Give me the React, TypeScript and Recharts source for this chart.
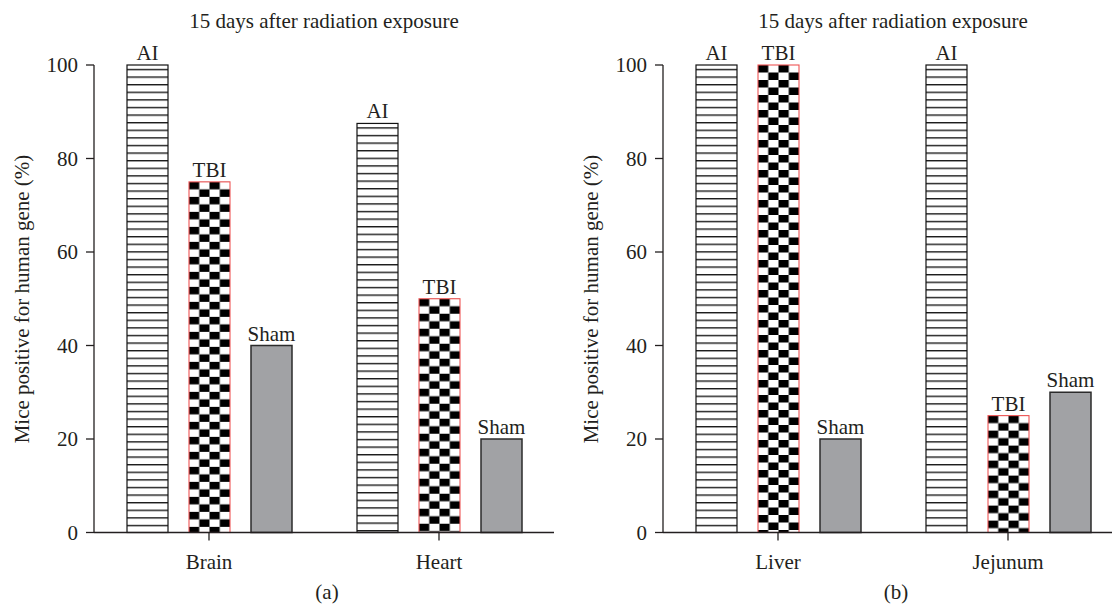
import React from 'react';
import { BarChart, Bar, XAxis, YAxis, LabelList } from 'recharts';

// values (percent of mice positive)
const leftOrgans = ['Brain', 'Heart'];
const leftAI = [100, 87.5];
const leftTBI = [75, 50];
const leftSham = [40, 20];

const rightOrgans = ['Liver', 'Jejunum'];
const rightAI = [100, 100];
const rightTBI = [100, 25];
const rightSham = [20, 30];

const yTicks = [0, 20, 40, 60, 80, 100];
const title = '15 days after radiation exposure';
const yLabel = 'Mice positive for human gene (%)';

const INK = '#231f20';
const FONT = '"Liberation Serif", "Times New Roman", serif';

// pattern fills, anchored at each bar's top-left through the translate below
const Patterns = () => (
    <svg width={0} height={0} style={{ position: 'absolute' }}>
        <defs>
            <pattern id="stripes" patternUnits="userSpaceOnUse" width={41} height={7.6}>
                <rect width={41} height={7.6} fill="#fff" />
                <rect y={3.8} width={41} height={1.4} fill="#1a1a1a" />
            </pattern>
            <pattern id="checker" patternUnits="userSpaceOnUse" width={20.5} height={15}>
                <rect width={20.5} height={15} fill="#fff" />
                <rect width={10.25} height={7.5} fill="#000" />
                <rect x={10.25} y={7.5} width={10.25} height={7.5} fill="#000" />
            </pattern>
        </defs>
    </svg>
);

const StripeBar = (props: any) => {
    const { x, y, width, height } = props;
    if (!height) return null;
    return (
        <g transform={`translate(${x},${y})`}>
            <rect width={width} height={height} fill="url(#stripes)" stroke="#111" strokeWidth={1.2} />
        </g>
    );
};

const CheckerBar = (props: any) => {
    const { x, y, width, height } = props;
    if (!height) return null;
    return (
        <g transform={`translate(${x},${y})`}>
            <rect width={width} height={height} fill="url(#checker)" stroke="#ef5454" strokeWidth={1.1} />
        </g>
    );
};

const ShamBar = (props: any) => {
    const { x, y, width, height } = props;
    if (!height) return null;
    return <rect x={x} y={y} width={width} height={height} fill="#a1a2a5" stroke="#2b2b2b" strokeWidth={1.5} />;
};

const topLabel = (text: string) => (p: any) => (
    <text x={p.x + p.width / 2} y={p.y - 5} textAnchor="middle" fontSize={21} fill={INK} fontFamily={FONT}>
        {text}
    </text>
);

interface PanelProps {
    organs: string[];
    ai: number[];
    tbi: number[];
    sham: number[];
    tag: string;
    left: number;
}

const Panel: React.FC<PanelProps> = ({ organs, ai, tbi, sham, tag, left }) => {
    const data = organs.map((organ, i) => ({ organ, AI: ai[i], TBI: tbi[i], Sham: sham[i] }));
    const axisStyle = { stroke: INK, strokeWidth: 1.3 };
    const tickStyle = { fontSize: 21, fill: INK, fontFamily: FONT };

    return (
        <div style={{ position: 'absolute', left, top: 0, width: 560, height: 614 }}>
            <BarChart
                width={560}
                height={614}
                data={data}
                margin={{ top: 65, right: 6, bottom: 0, left: 0 }}
                barSize={41}
                barGap={21}
            >
                <XAxis
                    dataKey="organ"
                    height={81.5}
                    axisLine={axisStyle}
                    tickLine={axisStyle}
                    tickSize={8}
                    tickMargin={14}
                    tick={tickStyle}
                />
                <YAxis
                    width={94}
                    domain={[0, 100]}
                    ticks={yTicks}
                    interval={0}
                    axisLine={axisStyle}
                    tickLine={axisStyle}
                    tickSize={8}
                    tickMargin={8}
                    tick={tickStyle}
                />
                <Bar dataKey="AI" shape={StripeBar} isAnimationActive={false}>
                    <LabelList dataKey="AI" content={topLabel('AI')} />
                </Bar>
                <Bar dataKey="TBI" shape={CheckerBar} isAnimationActive={false}>
                    <LabelList dataKey="TBI" content={topLabel('TBI')} />
                </Bar>
                <Bar dataKey="Sham" shape={ShamBar} isAnimationActive={false}>
                    <LabelList dataKey="Sham" content={topLabel('Sham')} />
                </Bar>
            </BarChart>
            <svg
                width={560}
                height={614}
                style={{ position: 'absolute', left: 0, top: 0, pointerEvents: 'none' }}
                fontFamily={FONT}
                fill={INK}
                fontSize={21}
            >
                <text x={324} y={28} textAnchor="middle">{title}</text>
                <text x={29} y={299} textAnchor="middle" transform="rotate(-90 29 299)">{yLabel}</text>
                <text x={327} y={599} textAnchor="middle">{tag}</text>
            </svg>
        </div>
    );
};

export default function App() {
    return (
        <div
            style={{
                position: 'absolute',
                left: 0,
                top: 0,
                width: 1112,
                height: 614,
                overflow: 'hidden',
                background: '#fff',
                fontFamily: FONT
            }}
        >
            <Patterns />
            <Panel organs={leftOrgans} ai={leftAI} tbi={leftTBI} sham={leftSham} tag="(a)" left={0} />
            <Panel organs={rightOrgans} ai={rightAI} tbi={rightTBI} sham={rightSham} tag="(b)" left={569} />
        </div>
    );
}
